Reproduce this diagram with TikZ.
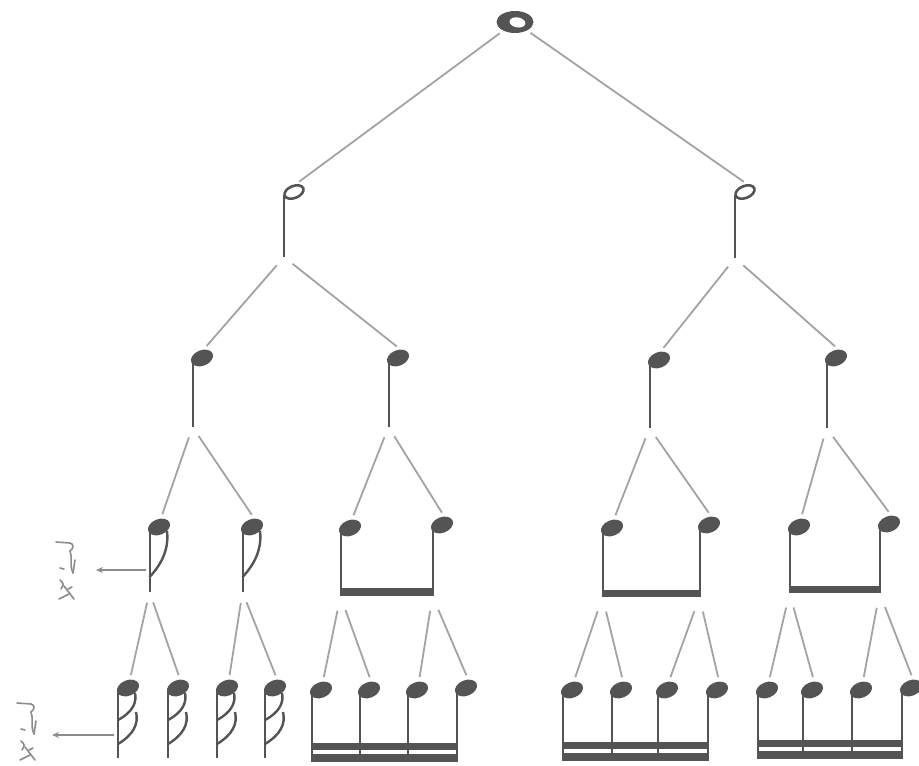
\documentclass[tikz,border=0pt]{standalone}
\usetikzlibrary{arrows.meta}
\definecolor{notecol}{gray}{0.33}
\definecolor{linecol}{gray}{0.64}
\definecolor{labcol}{gray}{0.55}
\tikzset{
  branch/.style={draw=linecol, line width=1.8pt, shorten <=11pt, shorten >=4pt},
  stemline/.style={draw=notecol, line width=2pt},
  flagline/.style={draw=notecol, line width=2.4pt},
  beamfill/.style={fill=notecol},
  pointer/.style={draw=labcol, line width=1.4pt, -{Stealth[length=7pt,width=6pt]}},
  labstroke/.style={draw=labcol, line width=1.6pt, line cap=round},
  pics/wn/.style={code={
    \fill[notecol] (0,0) ellipse (18.5 and 11);
    \fill[white, rotate=-10] (2.5,0) ellipse (8 and 5);
    \coordinate (-bot) at (0,0);
  }},
  pics/hn/.style={code={
    \draw[notecol, line width=2.6pt, fill=white, rotate=22] (0,0) ellipse (10 and 6);
    \draw[stemline] (-10,3) -- (-10,#1);
    \coordinate (-top) at (2,-8);
    \coordinate (-bot) at (-10,#1);
  }},
  pics/qn/.style={code={
    \fill[notecol, rotate=22] (0,0) ellipse (11.5 and 7.8);
    \draw[stemline] (-9.5,2) -- (-9.5,#1);
    \coordinate (-top) at (2,-9);
    \coordinate (-bot) at (-9.5,#1);
  }},
  pics/en/.style={code={
    \fill[notecol, rotate=22] (0,0) ellipse (11.5 and 7.8);
    \draw[stemline] (-9.5,2) -- (-9.5,#1);
    \draw[flagline] (8,4) .. controls (10,20) and (4,36) .. (-9.5,50);
    \coordinate (-top) at (2,-9);
    \coordinate (-bot) at (-9.5,#1);
    \coordinate (-mid) at (-13,43);
  }},
  pics/sn/.style={code={
    \fill[notecol, rotate=22] (0,0) ellipse (11.5 and 7.8);
    \draw[stemline] (-10,2) -- (-10,#1);
    \draw[flagline] (7,5) .. controls (9,14) and (5,24) .. (-10,32);
    \draw[flagline] (8,24) .. controls (11,36) and (5,47) .. (-10,56);
    \coordinate (-top) at (2,-9);
    \coordinate (-bot) at (-10,#1);
    \coordinate (-mid) at (-14,47);
  }},
  pics/restlab/.style={code={
    \draw[labstroke] (-10,0) -- (4,1) .. controls (8,2) and (8,6) .. (4,9);
    \draw[labstroke] (4,9) .. controls (7,16) and (3,22) .. (7,31);
    \draw[labstroke] (9,18) -- (7,31);
    \draw[labstroke] (-6,26) -- (-2,27);
    \draw[labstroke] (-6,38) .. controls (-2,42) .. (-5,47);
    \draw[labstroke] (-2,44) -- (8,57);
    \draw[labstroke] (-7,57) -- (3,52);
    \draw[labstroke] (2,47) -- (6,45);
  }}
}
\begin{document}
\begin{tikzpicture}[x=1pt,y=-1pt]
\useasboundingbox[fill=white] (0,0) rectangle (919,766);

% whole note
\pic (w) at (515,22) {wn};
% half notes
\pic (h1) at (294,192) {hn=65};
\pic (h2) at (745,192) {hn=66};
% quarter notes
\pic (q1) at (202,358) {qn=69};
\pic (q2) at (398,358) {qn=69};
\pic (q3) at (659,360) {qn=68};
\pic (q4) at (836,358) {qn=70};
% eighth notes (flagged)
\pic (e1) at (159,527) {en=65};
\pic (e2) at (252,527) {en=65};
% eighth notes (beamed)
\pic (b1) at (350,528) {qn=68};
\pic (b2) at (442,525) {qn=71};
\pic (b3) at (612,528) {qn=69};
\pic (b4) at (709,525) {qn=72};
\pic (b5) at (799,527) {qn=66};
\pic (b6) at (889,524) {qn=69};
\fill[beamfill] (339.5,588) rectangle (433.5,596);
\fill[beamfill] (601.5,590) rectangle (700.5,597);
\fill[beamfill] (788.5,586) rectangle (880.5,593);
% sixteenth notes (flagged)
\pic (s1) at (128,688) {sn=70};
\pic (s2) at (178,688) {sn=70};
\pic (s3) at (227,688) {sn=70};
\pic (s4) at (275,688) {sn=70};
% sixteenth notes (beamed)
\pic (g1) at (321,690) {qn=72};
\pic (g2) at (369,690) {qn=72};
\pic (g3) at (417,690) {qn=72};
\pic (g4) at (466,688) {qn=74};
\fill[beamfill] (310.5,743) rectangle (457.5,750);
\fill[beamfill] (310.5,753.5) rectangle (457.5,762);
\pic (g5) at (572,690) {qn=71};
\pic (g6) at (621,690) {qn=71};
\pic (g7) at (667,690) {qn=71};
\pic (g8) at (717,690) {qn=71};
\fill[beamfill] (561.5,742) rectangle (708.5,749);
\fill[beamfill] (561.5,752.5) rectangle (708.5,761);
\pic (g9)  at (767,690) {qn=69};
\pic (g10) at (812,690) {qn=69};
\pic (g11) at (861,690) {qn=69};
\pic (g12) at (911,688) {qn=71};
\fill[beamfill] (756.5,740) rectangle (902.5,747);
\fill[beamfill] (756.5,750.5) rectangle (902.5,759);

% branches
\draw[branch, shorten <=19pt] (w-bot) -- (h1-top);
\draw[branch, shorten <=19pt] (w-bot) -- (h2-top);
\draw[branch] (h1-bot) -- (q1-top);
\draw[branch] (h1-bot) -- (q2-top);
\draw[branch] (h2-bot) -- (q3-top);
\draw[branch] (h2-bot) -- (q4-top);
\draw[branch] (q1-bot) -- (e1-top);
\draw[branch] (q1-bot) -- (e2-top);
\draw[branch] (q2-bot) -- (b1-top);
\draw[branch] (q2-bot) -- (b2-top);
\draw[branch] (q3-bot) -- (b3-top);
\draw[branch] (q3-bot) -- (b4-top);
\draw[branch] (q4-bot) -- (b5-top);
\draw[branch] (q4-bot) -- (b6-top);
\draw[branch] (e1-bot) -- (s1-top);
\draw[branch] (e1-bot) -- (s2-top);
\draw[branch] (e2-bot) -- (s3-top);
\draw[branch] (e2-bot) -- (s4-top);
\draw[branch, shorten <=15pt] (b1-bot) -- (g1-top);
\draw[branch, shorten <=15pt] (b1-bot) -- (g2-top);
\draw[branch, shorten <=15pt] (b2-bot) -- (g3-top);
\draw[branch, shorten <=15pt] (b2-bot) -- (g4-top);
\draw[branch, shorten <=15pt] (b3-bot) -- (g5-top);
\draw[branch, shorten <=15pt] (b3-bot) -- (g6-top);
\draw[branch, shorten <=15pt] (b4-bot) -- (g7-top);
\draw[branch, shorten <=15pt] (b4-bot) -- (g8-top);
\draw[branch, shorten <=15pt] (b5-bot) -- (g9-top);
\draw[branch, shorten <=15pt] (b5-bot) -- (g10-top);
\draw[branch, shorten <=15pt] (b6-bot) -- (g11-top);
\draw[branch, shorten <=15pt] (b6-bot) -- (g12-top);

% side labels and pointers
\pic at (66,542) {restlab};
\coordinate (lab1) at (96,570);
\draw[pointer] (e1-mid) -- (lab1);
\pic at (27,703) {restlab};
\coordinate (lab2) at (52,735);
\draw[pointer] (s1-mid) -- (lab2);
\end{tikzpicture}
\end{document}
